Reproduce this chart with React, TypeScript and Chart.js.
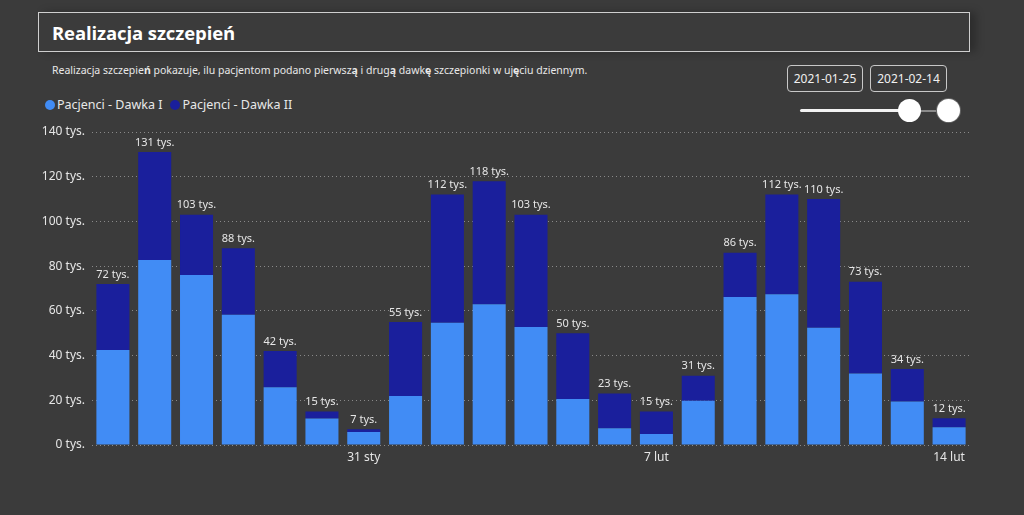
import React, { useEffect, useRef } from "react";
import { Chart, registerables } from "chart.js";

Chart.register(...registerables);

const categories = [
  "25 sty", "26 sty", "27 sty", "28 sty", "29 sty", "30 sty", "31 sty",
  "1 lut", "2 lut", "3 lut", "4 lut", "5 lut", "6 lut", "7 lut",
  "8 lut", "9 lut", "10 lut", "11 lut", "12 lut", "13 lut", "14 lut",
];
// thousands of patients
const doseOne = [42.5, 82.7, 76, 58.3, 25.8, 11.8, 5.8, 21.9, 54.7, 62.9, 52.8, 20.6, 7.5, 4.9, 19.8, 66.2, 67.4, 52.5, 32, 19.5, 7.9];
const doseTwo = [29.5, 48.3, 27, 29.7, 16.2, 3.2, 1.2, 33.1, 57.3, 55.1, 50.2, 29.4, 15.5, 10.1, 11.2, 19.8, 44.6, 57.5, 41, 14.5, 4.1];
const shownXLabels = ["31 sty", "7 lut", "14 lut"];
const seriesNames = ["Pacjenci - Dawka I", "Pacjenci - Dawka II"];
const yMax = 140;
const yStep = 20;

const LIGHT = "#418cf5";
const DARK = "#1a1f9c";
const BG = "#3b3b3b";
const FONT = "'Noto Sans', 'Open Sans', sans-serif";

const totalsPlugin = {
  id: "totals",
  afterDatasetsDraw(chart: any) {
    const ctx = chart.ctx;
    const meta = chart.getDatasetMeta(1);
    ctx.save();
    ctx.font = `11px ${FONT}`;
    ctx.fillStyle = "#e6e6e6";
    ctx.textAlign = "center";
    ctx.textBaseline = "bottom";
    meta.data.forEach((bar: any, i: number) => {
      const total = Math.round(doseOne[i] + doseTwo[i]);
      ctx.fillText(`${total} tys.`, bar.x, bar.y - 4);
    });
    ctx.restore();
  },
};

export default function App() {
  const ref = useRef<HTMLCanvasElement>(null);
  useEffect(() => {
    document.body.style.margin = "0";
    const chart = new Chart(ref.current!, {
      type: "bar",
      data: {
        labels: categories,
        datasets: [
          { label: seriesNames[0], data: doseOne, backgroundColor: LIGHT, categoryPercentage: 1, barPercentage: 0.79 },
          { label: seriesNames[1], data: doseTwo, backgroundColor: DARK, categoryPercentage: 1, barPercentage: 0.79 },
        ],
      },
      options: {
        animation: false,
        responsive: false,
        maintainAspectRatio: false,
        layout: { padding: { top: 15, right: 20, left: 0, bottom: 0 } },
        plugins: { legend: { display: false }, tooltip: { enabled: false } },
        scales: {
          x: {
            stacked: true,
            grid: { display: false },
            border: { display: false },
            afterFit: (s: any) => { s.height = 27; },
            ticks: {
              autoSkip: false,
              maxRotation: 0,
              color: "#e6e6e6",
              font: { family: FONT, size: 12 },
              padding: -3,
              callback: (_v: any, i: number) => (shownXLabels.includes(categories[i]) ? categories[i] : ""),
            },
          },
          y: {
            stacked: true,
            min: 0,
            max: yMax,
            afterFit: (s: any) => { s.width = 92; },
            border: { display: false, dash: [1, 3] },
            grid: { color: "rgba(190,190,190,0.6)", lineWidth: 1, tickLength: 0, drawTicks: false },
            ticks: {
              stepSize: yStep,
              color: "#e6e6e6",
              font: { family: FONT, size: 12 },
              padding: 7,
              callback: (v: any) => `${v} tys.`,
            },
          },
        },
      },
      plugins: [totalsPlugin],
    });
    return () => chart.destroy();
  }, []);

  const box: React.CSSProperties = {
    position: "absolute",
    border: "1px solid #c8c8c8",
    borderRadius: 4,
    color: "#f0f0f0",
    font: `12px ${FONT}`,
    display: "flex",
    alignItems: "center",
    justifyContent: "center",
    boxSizing: "border-box",
  };
  const dot = (c: string): React.CSSProperties => ({
    display: "inline-block", width: 10, height: 10, borderRadius: 5, background: c, marginRight: 2,
  });

  return (
    <div style={{ position: "fixed", left: 0, top: 0, width: 1024, height: 515, background: BG, overflow: "hidden", fontFamily: FONT }}>
      <div style={{ position: "absolute", left: 38, top: 12, width: 932, height: 40, border: "1.5px solid #cfcfcf", boxSizing: "border-box", boxShadow: "6px 0 8px rgba(0,0,0,0.25)" }}>
        <div style={{ position: "absolute", left: 13, top: 7, color: "#fff", font: `bold 18.5px 'Open Sans', sans-serif`, letterSpacing: -0.1 }}>Realizacja szczepień</div>
      </div>
      <div style={{ position: "absolute", left: 52, top: 63, color: "#e8e8e8", font: `10.5px ${FONT}`, whiteSpace: "nowrap" }}>
        Realizacja szczepie<b>ń</b> pokazuje, ilu pacjentom podano pierwsz<b>ą</b> i drug<b>ą</b> dawk<b>ę</b> szczepionki w uj<b>ę</b>ciu dziennym.
      </div>
      <div style={{ ...box, left: 787, top: 65, width: 76, height: 27 }}>2021-01-25</div>
      <div style={{ ...box, left: 870, top: 65, width: 77, height: 27 }}>2021-02-14</div>
      <div style={{ position: "absolute", left: 800, top: 109, width: 105, height: 3, background: "#f2f2f2", borderRadius: 2 }} />
      <div style={{ position: "absolute", left: 918, top: 110, width: 22, height: 2, background: "#8a8a8a" }} />
      <div style={{ position: "absolute", left: 898, top: 99, width: 23, height: 23, borderRadius: 12, background: "#fff" }} />
      <div style={{ position: "absolute", left: 937, top: 99, width: 23, height: 23, borderRadius: 12, background: "#fff", boxShadow: "0 0 0 1px #666" }} />
      <div style={{ position: "absolute", left: 45, top: 96, color: "#e8e8e8", font: `12.5px ${FONT}`, display: "flex", alignItems: "center", whiteSpace: "nowrap" }}>
        <span style={dot(LIGHT)} />
        <span style={{ marginRight: 8 }}>{seriesNames[0]}</span>
        <span style={dot(DARK)} />
        <span>{seriesNames[1]}</span>
      </div>
      <canvas ref={ref} width={990} height={355} style={{ position: "absolute", left: 0, top: 117, width: 990, height: 355 }} />
    </div>
  );
}
